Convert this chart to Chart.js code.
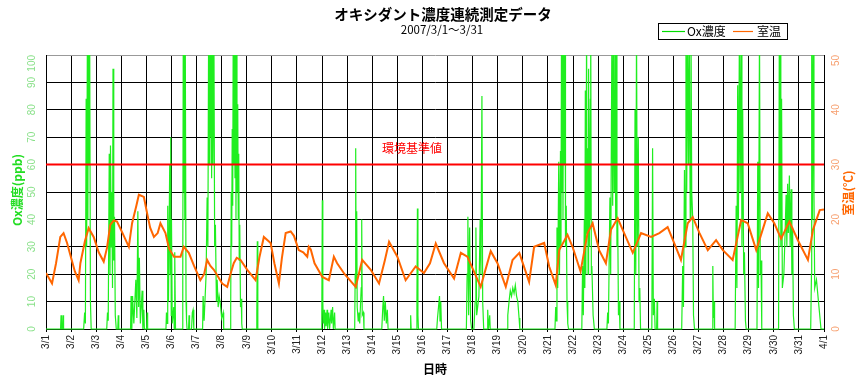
<!DOCTYPE html>
<html>
<head>
<meta charset="utf-8">
<script src="https://cdn.jsdelivr.net/npm/chart.js@4/dist/chart.umd.min.js"></script>
<style>
  html,body{margin:0;padding:0;background:#fff;}
  #wrap{width:862px;height:377px;}
</style>
</head>
<body>
<div id="wrap"><canvas id="c" width="862" height="377"></canvas></div>
<script>
// ---- data (time in days from 2007/3/1 00:00) ----
const dayLabels = ["3/1","3/2","3/3","3/4","3/5","3/6","3/7","3/8","3/9","3/10","3/11","3/12","3/13","3/14","3/15","3/16","3/17","3/18","3/19","3/20","3/21","3/22","3/23","3/24","3/25","3/26","3/27","3/28","3/29","3/30","3/31","4/1"];

const oxDay = [0,0.58,0.6,0.62,0.66,0.68,0.7,
 1.5,1.54,1.57,1.6,1.62,1.65,1.67,1.69,1.72,1.74,1.77,1.8,
 2.42,2.45,2.48,2.52,2.55,2.57,2.6,2.62,2.65,2.67,2.7,2.73,2.76,2.8,2.86,2.88,2.9,
 3.37,3.39,3.42,3.45,3.5,3.58,3.62,3.66,3.69,3.72,3.76,3.83,3.86,3.9,3.92,4.01,4.03,4.05,
 4.78,4.8,4.83,4.85,4.88,4.93,4.95,4.97,4.99,5.0,5.03,5.09,5.11,5.13,5.16,
 5.43,5.45,5.47,5.49,5.51,5.53,5.55,5.58,5.6,5.62,5.68,5.7,5.72,5.8,5.83,5.86,5.89,
 6.24,6.26,6.3,6.38,6.42,6.45,6.48,6.5,6.53,6.55,6.58,6.6,6.62,6.65,6.69,6.72,6.75,6.79,6.82,6.86,6.9,6.95,7.0,7.06,7.08,
 7.34,7.36,7.38,7.4,7.42,7.44,7.46,7.48,7.51,7.53,7.55,7.57,7.59,7.61,7.64,7.66,7.68,7.7,7.72,7.75,7.78,7.8,7.82,
 8.38,8.4,8.42,8.44,
 10.97,10.99,11.01,11.03,11.05,11.08,11.1,11.14,11.16,11.2,11.22,11.27,11.3,11.36,11.38,11.42,11.45,11.5,11.52,
 12.3,12.32,12.34,12.36,12.38,12.4,12.44,12.47,12.5,12.56,12.58,12.6,12.65,12.67,
 13.38,13.42,13.45,13.48,13.52,13.56,13.6,13.63,
 14.51,14.53,14.55,14.76,14.78,14.8,14.82,14.84,
 15.57,15.6,15.64,15.68,15.7,15.73,15.76,
 16.75,16.78,16.81,16.84,16.88,16.92,16.96,17.05,17.1,17.13,17.16,17.2,17.25,17.3,17.33,17.37,17.4,17.44,17.58,17.6,17.63,17.68,17.7,
 18.37,18.4,18.45,18.5,18.55,18.6,18.65,18.7,18.75,18.8,18.85,18.88,
 20.28,20.31,20.34,20.36,20.39,20.43,20.46,20.5,20.52,20.54,20.56,20.58,20.6,20.62,20.65,20.68,20.7,20.73,20.76,20.79,20.82,
 21.35,21.38,21.41,21.45,21.47,21.49,21.51,21.54,21.56,21.58,21.6,21.62,21.65,21.69,21.7,21.71,21.73,21.75,21.8,21.85,
 22.35,22.38,22.41,22.47,22.5,22.55,22.58,22.61,22.64,22.67,22.7,22.72,22.75,22.78,22.81,22.84,22.87,
 23.44,23.47,23.5,23.53,23.56,23.6,23.63,23.66,23.69,
 24.14,24.17,24.2,24.24,24.27,24.33,24.35,24.37,
 25.33,25.37,25.4,25.44,25.47,25.5,25.53,25.56,25.6,25.63,25.67,25.7,25.73,25.77,25.8,25.84,
 26.54,26.57,26.59,26.62,26.64,
 27.46,27.5,27.53,27.56,27.59,27.63,27.66,27.7,27.73,27.76,27.8,27.83,27.87,27.9,
 28.33,28.36,28.39,28.43,28.46,28.49,28.52,
 29.19,29.22,29.24,29.26,29.28,29.31,29.34,29.4,29.45,29.49,29.52,29.55,29.58,29.62,29.65,29.69,29.72,29.75,29.78,29.82,
 30.47,30.5,30.51,30.54,30.57,30.6,30.63,30.7,30.8,30.88,31];

const oxPpb = [0,0,5,0,0,5,0,
 0,6,2,84,30,110,40,120,60,110,10,0,
 0,6,3,64,20,67,30,50,15,95,25,41,5,0,0,5,0,
 0,12,0,12,2,18,4,43,8,26,2,14,0,7,0,0,6,0,
 0,6,2,45,10,60,20,70,5,40,2,8,0,28,0,
 0,20,110,50,110,40,105,10,3,0,0,5,0,0,6,7,0,
 0,12,3,20,48,30,110,60,110,70,110,55,110,60,110,30,38,10,18,8,12,9,4,6,0,
 0,8,50,30,73,45,110,60,110,55,110,40,110,50,82,40,64,25,38,8,11,2,0,
 0,5,32,0,
 0,5,47,10,2,7,0,6,1,7,0,6,0,7,2,8,0,6,0,
 0,20,66,15,43,8,3,6,2,15,40,5,6,0,
 0,8,12,3,10,2,7,0,
 0,5,0,0,10,44,5,0,
 0,4,8,12,3,10,0,
 0,20,41,5,37,3,0,0,10,37,5,8,12,40,20,85,10,0,0,7,0,5,0,
 0,5,10,14,12,15,13,16,12,10,4,0,
 0,8,3,37,15,61,20,65,30,110,50,110,40,110,60,110,30,45,10,2,0,
 0,23,5,40,15,87,20,110,35,66,20,95,30,84,40,110,20,23,5,0,
 0,6,2,48,20,110,45,110,50,110,40,110,30,40,5,10,0,
 0,80,20,110,30,70,10,15,0,
 0,66,5,11,0,0,10,0,
 0,23,8,58,30,110,50,110,60,110,40,110,50,40,5,0,
 0,23,4,10,0,
 0,45,15,89,40,110,50,110,30,80,20,28,3,0,
 0,61,15,110,20,25,0,
 0,110,40,110,30,84,15,20,35,49,30,53,35,56,30,51,20,37,5,0,
 0,20,110,40,110,50,15,18,8,0,0];

const tempDay = [0,0.24,0.4,0.57,0.7,0.84,1.0,1.15,1.3,1.37,1.55,1.7,1.9,2.1,2.3,2.43,2.56,2.7,2.83,3.05,3.3,3.43,3.6,3.7,3.9,4.03,4.15,4.3,4.45,4.56,4.76,4.9,5.1,5.36,5.49,5.69,5.9,6.15,6.3,6.42,6.55,6.69,7.02,7.22,7.35,7.48,7.6,7.75,8.02,8.35,8.5,8.68,8.95,9.1,9.28,9.4,9.55,9.75,9.88,10.07,10.25,10.41,10.47,10.55,10.7,11.01,11.27,11.47,11.6,11.9,12.34,12.6,12.94,13.27,13.5,13.67,14.0,14.33,14.73,15.06,15.3,15.53,15.86,16.26,16.53,16.79,17.05,17.32,17.72,17.99,18.32,18.59,18.86,19.25,19.45,19.85,20.05,20.31,20.45,20.78,20.98,21.3,21.58,21.78,22.04,22.31,22.51,22.78,22.98,23.38,23.71,24.11,24.44,24.77,25.04,25.3,25.57,25.77,26.04,26.37,26.7,26.97,27.36,27.7,27.96,28.3,28.76,29.02,29.29,29.62,29.96,30.36,30.56,30.83,31];

const tempC = [10.2,8.3,12,16.8,17.5,15.7,13,10.5,8.9,12,16,18.4,16.8,14,12.3,14.8,19,19.8,19.6,17.5,15,19.3,22.5,24.5,24.1,21.1,18.5,16.8,17.5,19.3,17.5,14.7,13.2,13.2,15,13.9,11.5,8.9,10,12.6,11.5,10.8,8.3,7.7,10,12,13,12.6,10.8,8.9,13,16.8,15.7,12,8.3,13,17.5,17.8,17,14.4,14,13.2,15,14.5,12,9.5,8.9,13.2,12,10,7.7,12.6,10.8,8.3,12.5,15.9,13.2,8.9,11.4,10.2,12,15.6,12,9.2,13.9,13.2,10.5,7.7,14.2,12,7.7,12.6,13.9,8.6,15,15.7,11.4,8,14.4,17.2,15,10.5,17.5,19.3,14.4,12,18.1,20.2,18.1,13.9,17.5,16.8,17.5,18.6,15.6,12.6,19.3,20.4,17.5,14.4,16.2,14.4,12.6,19.9,19.3,14.4,21.1,19.3,16.5,19.6,16.2,12.6,18.1,21.7,21.8];

const standardValue = 60;
const leftTicks = [0,10,20,30,40,50,60,70,80,90,100];
const rightTicks = [0,10,20,30,40,50];

// ---- build datasets ----
const oxPoints = oxDay.map((d,i)=>({x:d, y:oxPpb[i]}));
const tempPoints = tempDay.map((d,i)=>({x:d, y:tempC[i]}));
const stdPoints = [{x:0,y:standardValue},{x:31,y:standardValue}];

const JP = '"Noto Sans CJK JP", "Noto Sans", sans-serif';
const NUM = '"Liberation Sans", Arial, sans-serif';

const drawPlugin = {
  id: 'customText',
  beforeDraw(chart){
    const ctx = chart.ctx;
    ctx.save(); ctx.fillStyle = '#fff'; ctx.fillRect(0,0,chart.width,chart.height); ctx.restore();
  },
  afterDraw(chart){
    const ctx = chart.ctx;
    const area = chart.chartArea;
    const sx = chart.scales.x, sy = chart.scales.y, sy2 = chart.scales.y2;
    ctx.save();
    // title
    ctx.fillStyle = '#000';
    ctx.textAlign = 'center'; ctx.textBaseline = 'middle';
    ctx.font = 'bold 14.5px ' + JP;
    ctx.fillText('オキシダント濃度連続測定データ', 443, 14);
    ctx.font = '11.5px ' + JP;
    ctx.fillText('2007/3/1～3/31', 442, 30);

    // legend
    ctx.strokeStyle = '#000'; ctx.lineWidth = 1;
    ctx.strokeRect(658.5, 23.5, 129, 16);
    ctx.lineWidth = 1.2;
    ctx.strokeStyle = '#00dd00';
    ctx.beginPath(); ctx.moveTo(662, 31.5); ctx.lineTo(685, 31.5); ctx.stroke();
    ctx.strokeStyle = '#ff6600';
    ctx.beginPath(); ctx.moveTo(733, 31.5); ctx.lineTo(753, 31.5); ctx.stroke();
    ctx.fillStyle = '#000'; ctx.textAlign = 'left';
    ctx.font = '12px ' + JP;
    ctx.fillText('Ox濃度', 687, 31.5);
    ctx.fillText('室温', 757, 31.5);

    // standard label
    ctx.fillStyle = '#ff0000'; ctx.textAlign = 'center';
    ctx.font = '12px ' + JP;
    ctx.fillText('環境基準値', 412, sy.getPixelForValue(standardValue) - 16);

    // x tick labels
    ctx.fillStyle = '#222';
    ctx.font = '10px ' + NUM;
    dayLabels.forEach((lab, i) => {
      const px = sx.getPixelForValue(i);
      ctx.save();
      ctx.translate(px, area.bottom + 6);
      ctx.rotate(-Math.PI/2);
      ctx.textAlign = 'right'; ctx.textBaseline = 'middle';
      ctx.fillText(lab, 0, 0);
      ctx.restore();
    });

    // left tick labels
    ctx.fillStyle = '#88e088';
    leftTicks.forEach(v => {
      const lab = String(v);
      const w = ctx.measureText(lab).width;
      let py = sy.getPixelForValue(v);
      py = Math.max(py, area.top + w/2);
      ctx.save();
      ctx.translate(32, py);
      ctx.rotate(-Math.PI/2);
      ctx.textAlign = 'center'; ctx.textBaseline = 'middle';
      ctx.fillText(lab, 0, 0);
      ctx.restore();
    });
    // right tick labels
    ctx.fillStyle = '#f7a070';
    rightTicks.forEach(v => {
      const lab = String(v);
      const w = ctx.measureText(lab).width;
      let py = sy2.getPixelForValue(v);
      py = Math.max(py, area.top + w/2);
      ctx.save();
      ctx.translate(836, py);
      ctx.rotate(-Math.PI/2);
      ctx.textAlign = 'center'; ctx.textBaseline = 'middle';
      ctx.fillText(lab, 0, 0);
      ctx.restore();
    });

    // axis titles
    ctx.font = 'bold 12px ' + JP;
    ctx.fillStyle = '#22dd22';
    ctx.save(); ctx.translate(17, 190); ctx.rotate(-Math.PI/2);
    ctx.textAlign = 'center'; ctx.textBaseline = 'middle';
    ctx.fillText('Ox濃度(ppb)', 0, 0); ctx.restore();

    ctx.fillStyle = '#ff6600';
    ctx.save(); ctx.translate(848, 193); ctx.rotate(-Math.PI/2);
    ctx.textAlign = 'center'; ctx.textBaseline = 'middle';
    ctx.fillText('室温(℃)', 0, 0); ctx.restore();

    ctx.fillStyle = '#000';
    ctx.textAlign = 'center'; ctx.textBaseline = 'middle';
    ctx.fillText('日時', 435, 369);
    ctx.restore();
  }
};

new Chart(document.getElementById('c'), {
  type: 'line',
  data: {
    datasets: [
      { label: '環境基準値', data: stdPoints, yAxisID: 'y', borderColor: '#ff0000', borderWidth: 2,
        pointRadius: 0, order: 0 },
      { label: '室温', data: tempPoints, yAxisID: 'y2', borderColor: '#ff6600', borderWidth: 2,
        pointRadius: 0, tension: 0, order: 1 },
      { label: 'Ox濃度', data: oxPoints, yAxisID: 'y', borderColor: '#1fee1f', borderWidth: 1.2,
        pointRadius: 0, tension: 0, order: 2, clip: {left:0, right:0, top:0, bottom:3} }
    ]
  },
  options: {
    responsive: false,
    animation: false,
    devicePixelRatio: 1,
    layout: { padding: { left: 0, right: 0, top: 55, bottom: 0 } },
    plugins: { legend: { display: false }, tooltip: { enabled: false }, title: { display: false } },
    scales: {
      x: {
        type: 'linear', min: 0, max: 31,
        ticks: { display: false, stepSize: 1 },
        grid: { color: '#000', lineWidth: 1, drawTicks: true, tickLength: 3 },
        border: { display: true, color: '#000' },
        afterFit(s){ s.height = 48; }
      },
      y: {
        type: 'linear', position: 'left', min: 0, max: 100,
        ticks: { display: false, stepSize: 10 },
        grid: { color: (c) => c.tick && c.tick.value === 100 ? '#999' : '#000', lineWidth: 1, drawTicks: false },
        border: { display: true, color: '#000' },
        afterFit(s){ s.width = 46; }
      },
      y2: {
        type: 'linear', position: 'right', min: 0, max: 50,
        ticks: { display: false, stepSize: 10 },
        grid: { display: false, drawTicks: false },
        border: { display: true, color: '#000' },
        afterFit(s){ s.width = 38; }
      }
    }
  },
  plugins: [drawPlugin]
});
</script>
</body>
</html>
